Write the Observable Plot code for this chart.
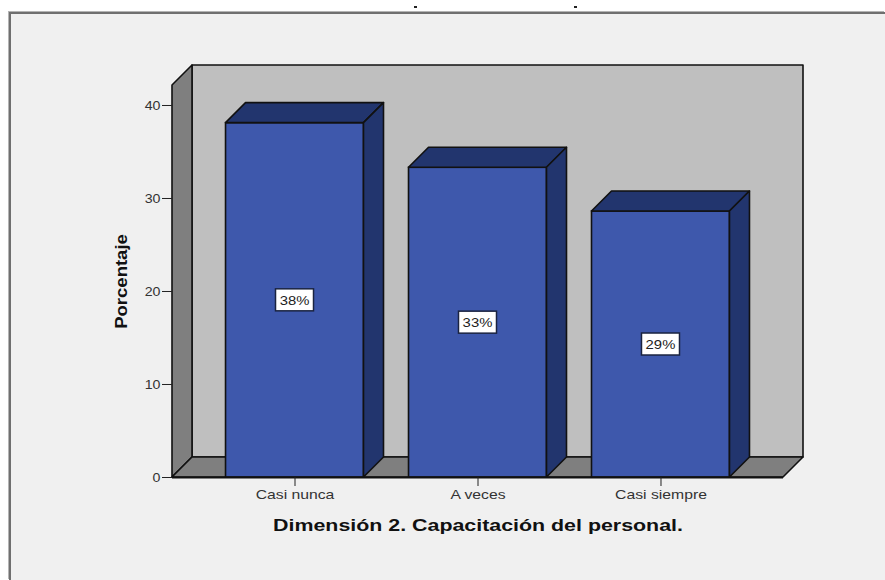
<!DOCTYPE html>
<html>
<head>
<meta charset="utf-8">
<script src="https://cdn.jsdelivr.net/npm/d3@7"></script>
<script src="https://cdn.jsdelivr.net/npm/@observablehq/plot@0.6"></script>
<style>
html,body{margin:0;padding:0;background:#fff;width:885px;height:580px;overflow:hidden}
#panel{position:absolute;left:9px;top:12px;right:0;bottom:0;background:#f0f0f0;border-left:2px solid #6f6f6f;border-top:2px solid #6f6f6f;box-shadow:-1px -1px 0 #b4b4b4}
.speck{position:absolute;top:6px;width:3px;height:2px;background:#222}
#chart{position:absolute;left:0;top:0}
</style>
</head>
<body>
<div id="panel"></div>
<div class="speck" style="left:414px"></div>
<div class="speck" style="left:574px"></div>
<div id="chart"></div>
<script>
const categories = ["Casi nunca", "A veces", "Casi siempre"];
const percentages = [38.1, 33.3, 28.6];
const yTicks = [0, 10, 20, 30, 40];
const yLabel = "Porcentaje";
const xLabel = "Dimensión 2. Capacitación del personal.";

const rows = categories.map((category, i) => ({category, value: percentages[i]}));
const depth = 20;
const edge = "#111";
const ns = "http://www.w3.org/2000/svg";

function poly(parent, pts, fill, sw = 1.6) {
  const p = document.createElementNS(ns, "polygon");
  p.setAttribute("points", pts.map(d => d.join(",")).join(" "));
  p.setAttribute("fill", fill);
  p.setAttribute("stroke", edge);
  p.setAttribute("stroke-width", sw);
  p.setAttribute("stroke-linejoin", "round");
  parent.appendChild(p);
}

// Back wall, left wall and floor, placed by the plot's own scales
function room(index, {y}, values, {marginLeft: l, marginTop, width, marginRight}) {
  const g = document.createElementNS(ns, "g");
  const r = width - marginRight, b = y(0), t = marginTop;
  poly(g, [[l + depth, t - depth], [r + depth, t - depth], [r + depth, b - depth], [l + depth, b - depth]], "#bfbfbf");
  poly(g, [[l, t], [l + depth, t - depth], [l + depth, b - depth], [l, b]], "#7f7f7f");
  poly(g, [[l, b], [l + depth, b - depth], [r + depth, b - depth], [r, b]], "#7f7f7f");
  return g;
}

// Top and side faces of each bar, from the same scales
function barFaces(index, {x, y}) {
  const g = document.createElementNS(ns, "g");
  const w = x.bandwidth();
  for (const d of rows) {
    const x0 = x(d.category), x1 = x0 + w, top = y(d.value), b = y(0);
    poly(g, [[x0, top], [x0 + depth, top - depth], [x1 + depth, top - depth], [x1, top]], "#22356e");
    poly(g, [[x1, top], [x1 + depth, top - depth], [x1 + depth, b - depth], [x1, b]], "#22356e");
  }
  return g;
}

// White label boxes at the middle of each bar
function valueLabels(index, {x, y}) {
  const g = document.createElementNS(ns, "g");
  g.setAttribute("class", "value-labels");
  const w = x.bandwidth();
  for (const d of rows) {
    const cx = x(d.category) + w / 2, cy = y(d.value / 2);
    const rect = document.createElementNS(ns, "rect");
    rect.setAttribute("x", cx - 19);
    rect.setAttribute("y", cy - 11);
    rect.setAttribute("width", 38);
    rect.setAttribute("height", 22);
    rect.setAttribute("fill", "#fff");
    rect.setAttribute("stroke", "#1a2340");
    rect.setAttribute("stroke-width", 1.5);
    g.appendChild(rect);
    const t = document.createElementNS(ns, "text");
    t.setAttribute("x", cx);
    t.setAttribute("y", cy + 5);
    t.setAttribute("text-anchor", "middle");
    t.setAttribute("font-family", "'Liberation Sans'");
    t.setAttribute("font-size", 13.5);
    t.setAttribute("fill", "#222");
    t.textContent = `${Math.round(d.value)}%`;
    g.appendChild(t);
  }
  return g;
}

const plot = Plot.plot({
  width: 885,
  height: 580,
  marginLeft: 172,
  marginRight: 102,
  marginTop: 85,
  marginBottom: 103,
  style: {background: "transparent", fontFamily: "'Liberation Sans'"},
  x: {domain: categories, paddingInner: 0.246, paddingOuter: 0.2925, round: false, label: null},
  y: {domain: [0, 42.15], label: null},
  marks: [
    room,
    Plot.barY(rows, {x: "category", y: "value", fill: "#3e58ac", stroke: edge, strokeWidth: 1.6}),
    barFaces,
    Plot.ruleY([0], {stroke: edge, strokeWidth: 2}),
    Plot.axisY({ticks: yTicks, tickSize: 10, tickPadding: 2, fontSize: 13.5, color: "#333", stroke: "#222", label: null}),
    Plot.axisX({tickSize: 9, tickPadding: 3, fontSize: 13, color: "#333", stroke: "#222", label: null}),
    valueLabels,
    Plot.text([yLabel], {frameAnchor: "left", textAnchor: "middle", rotate: -90, dx: -51, fontSize: 17, fontWeight: "bold", fill: "#111"}),
    Plot.text([xLabel], {frameAnchor: "bottom", textAnchor: "middle", dy: 53, fontSize: 16, fontWeight: "bold", fill: "#111"})
  ]
});
document.getElementById("chart").appendChild(plot);

// The reference's type is stretched sideways: widen the glyphs to match
function stretch(elements, factor) {
  elements.forEach(t => {
    t.setAttribute("textLength", t.getComputedTextLength() * factor);
    t.setAttribute("lengthAdjust", "spacingAndGlyphs");
  });
}
const allText = [...plot.querySelectorAll("text")];
stretch(plot.querySelectorAll('[aria-label="x-axis tick label"] text'), 1.21);
stretch(plot.querySelectorAll('[aria-label="y-axis tick label"] text'), 1.05);
stretch(plot.querySelectorAll('.value-labels text'), 1.1);
stretch(allText.filter(t => t.textContent === yLabel), 1.09);
stretch(allText.filter(t => t.textContent === xLabel), 1.336);
</script>
</body>
</html>
